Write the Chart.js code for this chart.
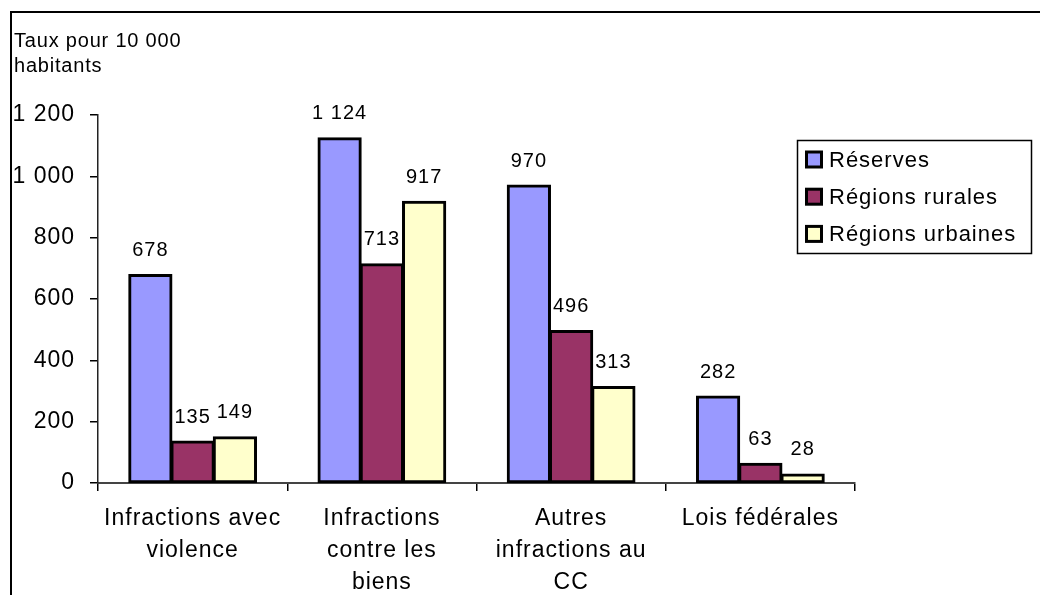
<!DOCTYPE html>
<html lang="fr">
<head>
  <meta charset="UTF-8">
  <script src="https://cdn.jsdelivr.net/npm/chart.js"></script>
  <title>Taux pour 10 000 habitants</title>
  <style>
    body {
      margin: 0;
      background: #fff;
      font-family: 'Liberation Sans', Arial, sans-serif;
    }

    #wrap {
      position: relative;
      width: 1040px;
      height: 595px;
      overflow: hidden;
    }

    #frame {
      position: absolute;
      left: 10px;
      top: 11px;
      width: 1100px;
      height: 700px;
      border-left: 2px solid #000;
      border-top: 2px solid #000;
    }

    #axisTitle {
      position: absolute;
      left: 14px;
      top: 28px;
      font-size: 20px;
      line-height: 25px;
      letter-spacing: 0.8px;
      color: #000;
    }

    canvas {
      position: absolute;
      left: 0;
      top: 0;
    }
  </style>
</head>

<body>
  <div id="wrap">
    <div id="frame"></div>
    <canvas id="chart" width="1040" height="595"></canvas>
    <div id="axisTitle">Taux pour 10 000<br>habitants</div>
  </div>

  <script>
    const categories = [
      ['Infractions avec', 'violence'],
      ['Infractions', 'contre les', 'biens'],
      ['Autres', 'infractions au', 'CC'],
      ['Lois fédérales']
    ];
    const seriesNames = ['Réserves', 'Régions rurales', 'Régions urbaines'];
    const reserves = [678, 1124, 970, 282];
    const rurales = [135, 713, 496, 63];
    const urbaines = [149, 917, 313, 28];
    const yTicks = [0, 200, 400, 600, 800, 1000, 1200];
    const colors = ['#9999FF', '#993366', '#FFFFCC'];

    const FONT = "'Liberation Sans', Arial, sans-serif";

    // "1200" -> "1 200"
    function fmt(v) {
      return String(v).replace(/\B(?=(\d{3})+(?!\d))/g, ' ');
    }

    // Excel-like text is a bit wider: add letter spacing on the canvas
    const spacing = {
      id: 'spacing',
      beforeLayout(chart) { chart.ctx.letterSpacing = '1px'; },
      beforeDraw(chart) { chart.ctx.letterSpacing = '1px'; }
    };

    const valueLabels = {
      id: 'valueLabels',
      afterDatasetsDraw(chart) {
        const ctx = chart.ctx;
        ctx.save();
        ctx.font = '20px ' + FONT;
        ctx.fillStyle = '#000';
        ctx.textAlign = 'center';
        ctx.textBaseline = 'alphabetic';
        chart.data.datasets.forEach((ds, i) => {
          chart.getDatasetMeta(i).data.forEach((bar, j) => {
            ctx.fillText(fmt(ds.data[j]), bar.x, bar.y - 19);
          });
        });
        ctx.restore();
      }
    };

    const boxLegend = {
      id: 'boxLegend',
      afterDraw(chart) {
        const ctx = chart.ctx;
        ctx.save();
        ctx.strokeStyle = '#000';
        ctx.lineWidth = 1.5;
        ctx.strokeRect(797.5, 140.5, 234, 113);
        ctx.font = '22px ' + FONT;
        ctx.textAlign = 'left';
        ctx.textBaseline = 'middle';
        chart.data.datasets.forEach((ds, i) => {
          const cy = 159.5 + i * 37.2;
          ctx.fillStyle = '#000';
          ctx.fillRect(805, cy - 9, 18, 18);
          ctx.fillStyle = ds.backgroundColor;
          ctx.fillRect(808, cy - 6, 12, 12);
          ctx.fillStyle = '#000';
          ctx.fillText(ds.label, 829, cy + 1);
        });
        ctx.restore();
      }
    };

    const seriesData = [reserves, rurales, urbaines];

    new Chart(document.getElementById('chart'), {
      type: 'bar',
      data: {
        labels: categories,
        datasets: seriesNames.map((name, i) => ({
          label: name,
          data: seriesData[i],
          backgroundColor: colors[i],
          borderColor: '#000',
          borderWidth: 3,
          borderSkipped: false,
          inflateAmount: 1,
          categoryPercentage: 0.67,
          barPercentage: 1.0
        }))
      },
      options: {
        responsive: false,
        animation: false,
        layout: {
          padding: { top: 115, right: 185, left: 0, bottom: 0 }
        },
        plugins: {
          legend: { display: false },
          tooltip: { enabled: false }
        },
        scales: {
          x: {
            grid: {
              offset: true,
              drawOnChartArea: false,
              tickLength: 8,
              color: '#000',
              lineWidth: 1.5
            },
            border: { color: '#444', width: 2 },
            ticks: {
              color: '#000',
              font: { family: FONT, size: 23, lineHeight: 1.39 },
              padding: 12,
              maxRotation: 0,
              autoSkip: false
            },
            afterFit(scale) { scale.height = 112; }
          },
          y: {
            min: 0,
            max: 1200,
            afterBuildTicks(scale) {
              scale.ticks = yTicks.map(v => ({ value: v }));
            },
            grid: {
              drawOnChartArea: false,
              tickLength: 8,
              color: '#000',
              lineWidth: 1.5
            },
            border: { color: '#222', width: 1.5 },
            ticks: {
              color: '#000',
              font: { family: FONT, size: 23 },
              padding: 15,
              callback: v => fmt(v)
            },
            afterFit(scale) { scale.width = 98; }
          }
        }
      },
      plugins: [spacing, valueLabels, boxLegend]
    });
  </script>
</body>

</html>
